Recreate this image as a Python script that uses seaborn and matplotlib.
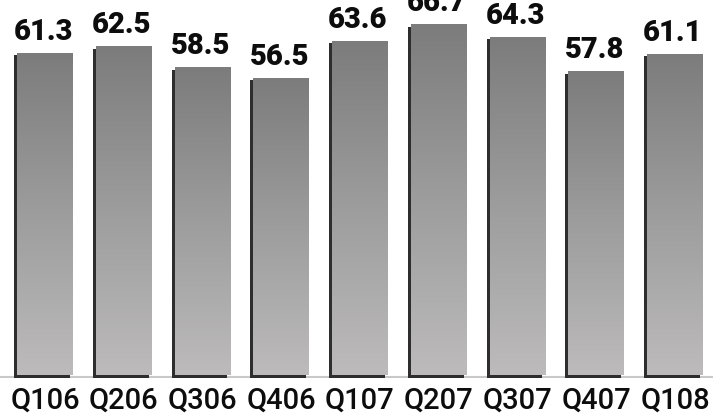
import matplotlib
matplotlib.use("Agg")
import matplotlib.pyplot as plt
import seaborn as sns
import numpy as np
import pandas as pd
from matplotlib.patches import Rectangle
from matplotlib.colors import LinearSegmentedColormap

quarters = ["Q106", "Q206", "Q306", "Q406", "Q107", "Q207", "Q307", "Q407", "Q108"]
values = [61.3, 62.5, 58.5, 56.5, 63.6, 66.7, 64.3, 57.8, 61.1]
labels = ["61.3", "62.5", "58.5", "56.5", "63.6", "66.7", "64.3", "57.8", "61.1"]

df = pd.DataFrame({"quarter": quarters, "value": values})

sns.set_theme(style="white")
plt.rcParams['font.family'] = ['Roboto', 'DejaVu Sans']

fig = plt.figure(figsize=(7.13, 4.17), dpi=100)
ax = fig.add_axes([0, 0.0935, 1, 0.9065])

sns.barplot(data=df, x="quarter", y="value", ax=ax, width=0.71,
            color="#9a9a9a", edgecolor="none", zorder=2)

cmap = LinearSegmentedColormap.from_list("g", ["#bdbbbb", "#9d9d9d", "#7c7c7c"])
grad = np.linspace(0, 1, 256).reshape(-1, 1)

px_x = 1 / 78.75
px_y = 1 / 5.3
for p, lab in zip(ax.patches, labels):
    x0, w, h = p.get_x(), p.get_width(), p.get_height()
    # drop shadow on left and bottom
    sh = Rectangle((x0 - 3 * px_x, -2.5 * px_y), w, h, facecolor="#2e2e2e",
                   edgecolor="none", zorder=1)
    ax.add_patch(sh)
    im = ax.imshow(grad, cmap=cmap, origin="lower", aspect="auto",
                   extent=(x0, x0 + w, 0, h), zorder=3, interpolation="bicubic")
    im.set_clip_path(p)
    ax.text(x0 + w / 2 - 2 * px_x, h + 7 * px_y, lab, ha="center", va="bottom",
            fontsize=21, fontweight="black", color="#0d0d0d", zorder=5)

ax.axhline(-1.5 * px_y, color="#c8c8c8", lw=1.5, zorder=0)

ax.set_xlim(-0.571, 8.483)
ax.set_ylim(-3 * px_y, 378 / 5.3)
ax.set_xlabel("")
ax.set_ylabel("")
ax.set_yticks([])
ax.tick_params(axis="x", length=0, pad=6, labelsize=21, labelcolor="#0d0d0d")
for t in ax.get_xticklabels():
    t.set_fontweight("medium")
for s in ax.spines.values():
    s.set_visible(False)

fig.savefig("out.png", dpi=100)
